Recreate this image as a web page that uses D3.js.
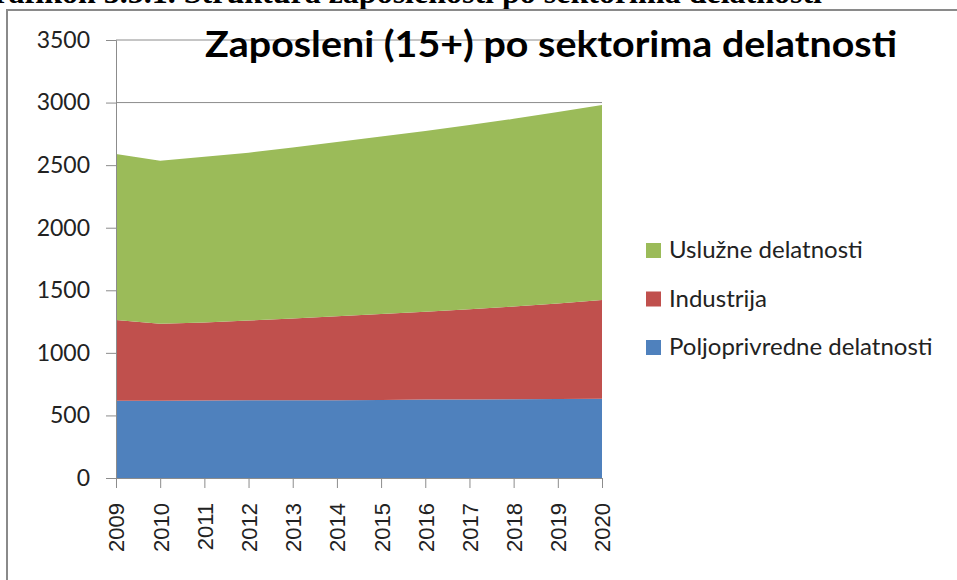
<!DOCTYPE html>
<html>
<head>
<meta charset="utf-8">
<title>Zaposleni (15+) po sektorima delatnosti</title>
<style>
  body { margin: 0; background: #fff; }
  svg { display: block; }
  .tick-y { font-family: Lato, "Open Sans", sans-serif; font-size: 23px; fill: #222; }
  .tick-x { font-family: "Liberation Sans", Arial, sans-serif; font-size: 22px; fill: #222; }
  .legend text { font-family: Lato, "Open Sans", sans-serif; font-size: 24px; fill: #222; }
</style>
</head>
<body>
<div id="chart"></div>
<script src="https://d3js.org/d3.v7.min.js"></script>
<script>
  var years = [2009, 2010, 2011, 2012, 2013, 2014, 2015, 2016, 2017, 2018, 2019, 2020];
  var poljoprivreda = [617, 617, 620, 621, 622, 622, 623, 627, 628, 630, 632, 634];
  var industrija = [646, 615, 623, 637, 653, 670, 687, 701, 720, 740, 763, 788];
  var usluge = [1326, 1304, 1324, 1342, 1365, 1393, 1418, 1444, 1472, 1500, 1530, 1559];
  var yTicks = [0, 500, 1000, 1500, 2000, 2500, 3000, 3500];

  var seriesNames = ["Poljoprivredne delatnosti", "Industrija", "Uslužne delatnosti"];
  var colors = ["#4f81bd", "#c0504d", "#9bbb59"];

  var width = 957, height = 580;
  var plot = { left: 116, right: 602, top: 40, bottom: 478 };

  var svg = d3.select("#chart").append("svg")
      .attr("width", width)
      .attr("height", height);

  // page heading that is cut off by the top edge
  svg.append("text")
      .attr("x", 822).attr("y", 3)
      .attr("text-anchor", "end")
      .style("font-family", "'Liberation Serif', 'Times New Roman', serif")
      .style("font-weight", "bold")
      .style("font-size", "32px")
      .text("Grafikon 3.5.1. Struktura zaposlenosti po sektorima delatnosti");

  // chart frame
  svg.append("path")
      .attr("d", "M7," + height + "V10H" + width)
      .attr("fill", "none")
      .attr("stroke", "#8a8a8a")
      .attr("stroke-width", 2);

  var x = d3.scalePoint().domain(years).range([plot.left, plot.right]);
  var y = d3.scaleLinear().domain([0, 3500]).range([plot.bottom, plot.top]);

  // table for the stack
  var table = years.map(function (yr, i) {
    var row = { year: yr };
    row[seriesNames[0]] = poljoprivreda[i];
    row[seriesNames[1]] = industrija[i];
    row[seriesNames[2]] = usluge[i];
    return row;
  });
  var stacked = d3.stack().keys(seriesNames)(table);

  // gridlines (behind the areas)
  svg.append("g").selectAll("line")
      .data(yTicks)
      .enter().append("line")
      .attr("x1", plot.left).attr("x2", plot.right)
      .attr("y1", function (d) { return y(d); })
      .attr("y2", function (d) { return y(d); })
      .attr("stroke", "#8c8c8c")
      .attr("stroke-width", 1);

  var area = d3.area()
      .x(function (d) { return x(d.data.year); })
      .y0(function (d) { return y(d[0]); })
      .y1(function (d) { return y(d[1]); });

  svg.append("g").selectAll("path")
      .data(stacked)
      .enter().append("path")
      .attr("d", area)
      .attr("fill", function (d, i) { return colors[i]; });

  // y axis
  var yAxis = svg.append("g")
      .attr("transform", "translate(" + plot.left + ",0)")
      .call(d3.axisLeft(y).tickValues(yTicks).tickSize(10).tickPadding(16).tickFormat(d3.format("d")));
  yAxis.select(".domain").attr("stroke", "#8c8c8c");
  yAxis.selectAll(".tick line").attr("stroke", "#8c8c8c");
  yAxis.selectAll("text").attr("class", "tick-y").attr("fill", null);
  yAxis.attr("font-family", null).attr("font-size", null);

  // x axis
  var xAxis = svg.append("g")
      .attr("transform", "translate(0," + plot.bottom + ")")
      .call(d3.axisBottom(x).tickSize(10).tickSizeOuter(0));
  xAxis.select(".domain").attr("stroke", "#8c8c8c");
  xAxis.selectAll(".tick line").attr("stroke", "#8c8c8c");
  xAxis.attr("font-family", null).attr("font-size", null);
  xAxis.selectAll("text")
      .attr("class", "tick-x")
      .attr("fill", null)
      .attr("transform", "rotate(-90)")
      .attr("text-anchor", "end")
      .attr("x", -25)
      .attr("y", 0)
      .attr("dy", "0.36em");

  // title
  svg.append("text")
      .attr("x", 551).attr("y", 57)
      .attr("text-anchor", "middle")
      .style("font-family", "Lato, 'Open Sans', sans-serif")
      .style("font-weight", "bold")
      .style("font-size", "36px")
      .attr("textLength", 692)
      .attr("lengthAdjust", "spacingAndGlyphs")
      .text("Zaposleni (15+) po sektorima delatnosti");

  // legend (top to bottom in reverse stack order)
  var legend = svg.append("g").attr("class", "legend");
  var legendItems = seriesNames.slice().reverse();
  legendItems.forEach(function (name, i) {
    var top = 243 + i * 48.5;
    legend.append("rect")
        .attr("x", 646).attr("y", top)
        .attr("width", 15).attr("height", 15)
        .attr("fill", colors[seriesNames.indexOf(name)]);
    legend.append("text")
        .attr("x", 669).attr("y", top + 15)
        .text(name);
  });
</script>
</body>
</html>
